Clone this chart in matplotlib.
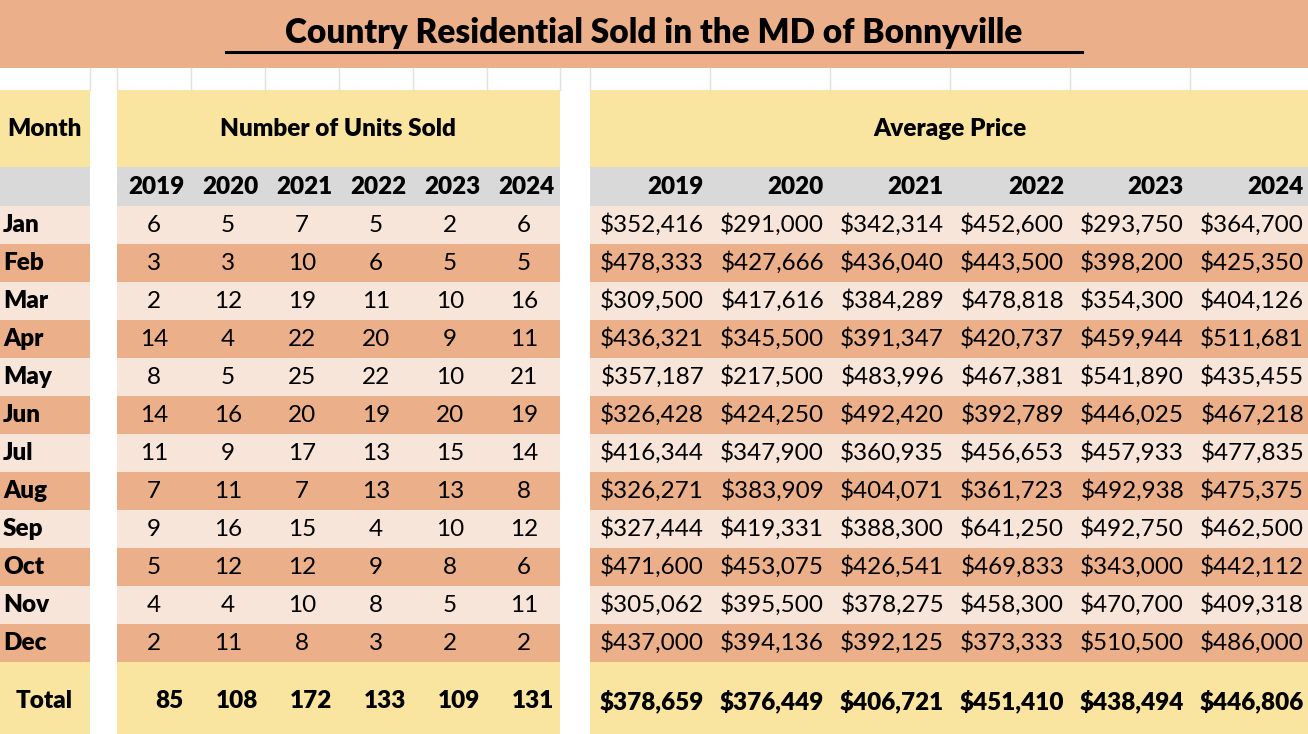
import matplotlib.pyplot as plt
from matplotlib.patches import Rectangle

plt.rcParams['font.family'] = ['Lato', 'DejaVu Sans']

title = "Country Residential Sold in the MD of Bonnyville"
years = ["2019", "2020", "2021", "2022", "2023", "2024"]
months = ["Jan", "Feb", "Mar", "Apr", "May", "Jun", "Jul", "Aug", "Sep", "Oct", "Nov", "Dec"]

units_2019 = [6, 3, 2, 14, 8, 14, 11, 7, 9, 5, 4, 2]
units_2020 = [5, 3, 12, 4, 5, 16, 9, 11, 16, 12, 4, 11]
units_2021 = [7, 10, 19, 22, 25, 20, 17, 7, 15, 12, 10, 8]
units_2022 = [5, 6, 11, 20, 22, 19, 13, 13, 4, 9, 8, 3]
units_2023 = [2, 5, 10, 9, 10, 20, 15, 13, 10, 8, 5, 2]
units_2024 = [6, 5, 16, 11, 21, 19, 14, 8, 12, 6, 11, 2]
units_total = [85, 108, 172, 133, 109, 131]

price_2019 = [352416, 478333, 309500, 436321, 357187, 326428, 416344, 326271, 327444, 471600, 305062, 437000]
price_2020 = [291000, 427666, 417616, 345500, 217500, 424250, 347900, 383909, 419331, 453075, 395500, 394136]
price_2021 = [342314, 436040, 384289, 391347, 483996, 492420, 360935, 404071, 388300, 426541, 378275, 392125]
price_2022 = [452600, 443500, 478818, 420737, 467381, 392789, 456653, 361723, 641250, 469833, 458300, 373333]
price_2023 = [293750, 398200, 354300, 459944, 541890, 446025, 457933, 492938, 492750, 343000, 470700, 510500]
price_2024 = [364700, 425350, 404126, 511681, 435455, 467218, 477835, 475375, 462500, 442112, 409318, 486000]
price_total = [378659, 376449, 406721, 451410, 438494, 446806]

units = [units_2019, units_2020, units_2021, units_2022, units_2023, units_2024]
prices = [price_2019, price_2020, price_2021, price_2022, price_2023, price_2024]

salmon = "#ebb089"
light = "#f8e5d9"
yellow = "#f9e4a0"
gray = "#d9d9d9"

W, H = 1308, 734
fig = plt.figure(figsize=(13.08, 7.34), dpi=100)
ax = fig.add_axes([0, 0, 1, 1])
ax.set_xlim(0, W)
ax.set_ylim(H, 0)
ax.axis("off")

def box(x0, y0, x1, y1, c):
    ax.add_patch(Rectangle((x0, y0), x1 - x0, y1 - y0, color=c, lw=0))

# title band
box(0, 0, W, 68, salmon)
ax.text(W / 2, 33, title, ha="center", va="center", fontsize=24, fontweight="heavy")
ax.plot([226, 1082], [52, 52], color="black", lw=2.2)

# faint grid in blank row
for x in [90, 117, 191, 265, 339, 413, 487, 560, 590, 710, 830, 950, 1070, 1190]:
    ax.plot([x, x], [68, 90], color="#e0e0e0", lw=1)

sections = [(0, 90), (117, 560), (590, W)]
row_top = 206
rh = 38.0
for x0, x1 in sections:
    box(x0, 90, x1, 167, yellow)
    box(x0, 167, x1, row_top, gray)
    for i in range(12):
        box(x0, row_top + i * rh, x1, row_top + (i + 1) * rh, light if i % 2 == 0 else salmon)
    box(x0, row_top + 12 * rh, x1, H, yellow)

fs = 17.5
hw = "heavy"
ax.text(44, 129, "Month", ha="center", va="center", fontsize=fs, fontweight=hw)
ax.text(338, 129, "Number of Units Sold", ha="center", va="center", fontsize=fs, fontweight=hw)
ax.text(950, 129, "Average Price", ha="center", va="center", fontsize=fs, fontweight=hw)

ucx = [117 + 74 * (j + 0.5) for j in range(6)]
pright = [704 + 120 * j for j in range(6)]
for j, yr in enumerate(years):
    ax.text(ucx[j] + 2, 187, yr, ha="center", va="center", fontsize=fs, fontweight=hw)
    ax.text(pright[j], 187, yr, ha="right", va="center", fontsize=fs, fontweight=hw)

for i, m in enumerate(months):
    yc = row_top + (i + 0.5) * rh
    ax.text(3, yc, m, ha="left", va="center", fontsize=fs, fontweight=hw)
    for j in range(6):
        ax.text(ucx[j], yc, str(units[j][i]), ha="center", va="center", fontsize=fs)
        ax.text(pright[j], yc, f"${prices[j][i]:,}", ha="right", va="center", fontsize=fs)

ty = 701
ax.text(44, ty, "Total", ha="center", va="center", fontsize=fs, fontweight=hw)
for j in range(6):
    ax.text(ucx[j] + 30, ty, str(units_total[j]), ha="right", va="center", fontsize=fs, fontweight=hw)
    ax.text(pright[j], ty, f"${price_total[j]:,}", ha="right", va="center", fontsize=fs, fontweight=hw)

fig.savefig("out.png", dpi=100)
